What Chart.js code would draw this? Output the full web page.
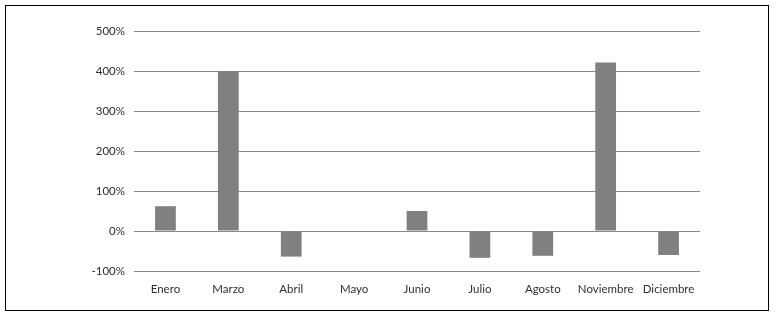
<!DOCTYPE html>
<html><head><meta charset="utf-8">
<script src="https://cdn.jsdelivr.net/npm/chart.js@4/dist/chart.umd.min.js"></script>
<style>
html,body{margin:0;padding:0;background:#fff;}
#wrap{position:relative;width:781px;height:318px;}
#frame{position:absolute;left:5px;top:5px;width:762px;height:304px;border:1px solid #000;box-sizing:content-box;pointer-events:none;}
canvas{position:absolute;left:0;top:0;}
</style></head><body>
<div id="wrap"><canvas id="c" width="781" height="318"></canvas><div id="frame"></div></div>
<script>
const categories = ["Enero","Marzo","Abril","Mayo","Junio","Julio","Agosto","Noviembre","Diciembre"];
const values = [62, 400, -64, 0, 50, -67, -62, 421, -60];
const yTicks = [-100, 0, 100, 200, 300, 400, 500];

new Chart(document.getElementById('c'), {
  type: 'bar',
  data: { labels: categories, datasets: [{ data: values, backgroundColor: '#808080', borderWidth: 0, barPercentage: 0.66, categoryPercentage: 0.5 }] },
  options: {
    responsive: false, animation: false,
    layout: { padding: { top: 31, right: 81, bottom: 0, left: 0 } },
    plugins: { legend: { display: false }, tooltip: { enabled: false } },
    scales: {
      x: {
        grid: { display: false, drawTicks: false },
        border: { display: false },
        ticks: { color: '#303030', font: { family: 'Lato', size: 11.5 }, padding: 11, maxRotation: 0 },
        afterFit: s => { s.height = 47; }
      },
      y: {
        min: -100, max: 500,
        afterBuildTicks: s => { s.ticks = yTicks.map(v => ({ value: v })); },
        grid: { color: '#8a8a8a', lineWidth: 1, drawTicks: false },
        border: { display: false },
        ticks: { color: '#303030', font: { family: 'Lato', size: 11.5 }, padding: 9, callback: v => v + '%' },
        afterFit: s => { s.width = 134; }
      }
    }
  }
});
</script>
</body></html>
